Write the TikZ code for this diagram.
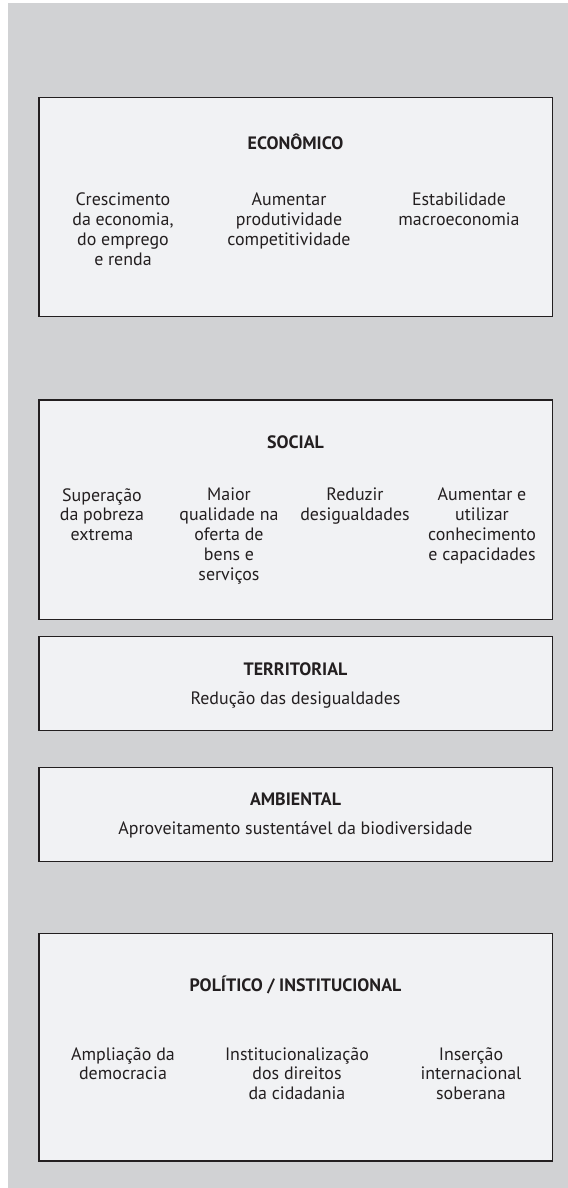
\documentclass[tikz,border=0pt]{standalone}
\usepackage{fontspec}
\setmainfont{PT Sans}
\definecolor{bgc}{HTML}{D1D2D4}
\definecolor{boxfill}{HTML}{F1F2F4}
\definecolor{ink}{HTML}{231F20}
\begin{document}
\begin{tikzpicture}[x=1bp,y=-1bp,
  panel/.style={draw=ink, line width=1.2bp, fill=boxfill, rectangle, inner sep=0pt},
  head/.style={font=\bfseries\fontsize{18}{20}\selectfont, text=ink, inner sep=0pt, anchor=base},
  item/.style={font=\fontsize{18}{20}\selectfont, text=ink, align=center, inner sep=0pt, anchor=north},
  line/.style={font=\fontsize{18}{20}\selectfont, text=ink, inner sep=0pt, anchor=base},
]
\useasboundingbox (0,0) rectangle (568,1188);
\fill[white] (0,0) rectangle (568,1188);
\fill[bgc] (8,3) rectangle (568,1188);

% boxes
\node[panel, minimum width=513.5bp, minimum height=219.4bp] (econ) at (295.75,207) {};
\node[panel, minimum width=513.5bp, minimum height=219.3bp] (soc) at (295.75,509.65) {};
\node[panel, minimum width=513.5bp, minimum height=94bp] (terr) at (295.75,683.7) {};
\node[panel, minimum width=513.5bp, minimum height=93.6bp] (amb) at (295.75,814.5) {};
\node[panel, minimum width=513.5bp, minimum height=227.7bp] (pol) at (295.75,1047.15) {};

% economico
\node[head] (econT) at (295.5,149.3) {ECONÔMICO};
\node[item] (e1) at (123,193) {Crescimento\\da economia,\\do emprego\\e renda};
\node[item] (e2) at (289,193) {Aumentar\\produtividade\\competitividade};
\node[item] (e3) at (459,193) {Estabilidade\\macroeconomia};

% social
\node[head] (socT) at (295.5,448.3) {SOCIAL};
\node[item] (s1) at (102,488) {Superação\\da pobreza\\extrema};
\node[item] (s2) at (229,488) {Maior\\qualidade na\\oferta de\\bens e\\serviços};
\node[item] (s3) at (355,488) {Reduzir\\desigualdades};
\node[item] (s4) at (482,488) {Aumentar e\\utilizar\\conhecimento\\e capacidades};

% territorial
\node[head] (terrT) at (295.5,675) {TERRITORIAL};
\node[line] (t1) at (295.5,704) {Redução das desigualdades};

% ambiental
\node[head] (ambT) at (295.5,805) {AMBIENTAL};
\node[line] (a1) at (295.5,834) {Aproveitamento sustentável da biodiversidade};

% politico
\node[head] (polT) at (295.5,991) {POLÍTICO / INSTITUCIONAL};
\node[item] (p1) at (123,1047) {Ampliação da\\democracia};
\node[item] (p2) at (297,1047) {Institucionalização\\dos direitos\\da cidadania};
\node[item] (p3) at (471,1047) {Inserção\\internacional\\soberana};
\end{tikzpicture}
\end{document}
